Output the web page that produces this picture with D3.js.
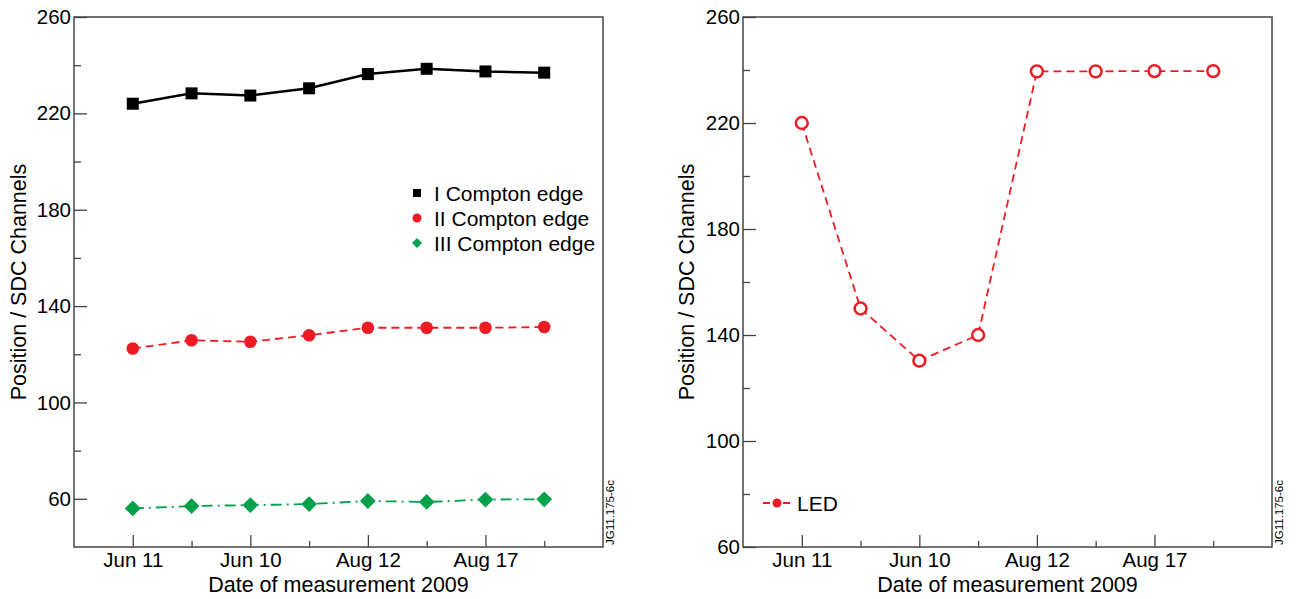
<!DOCTYPE html>
<html>
<head>
<meta charset="utf-8">
<script src="https://cdn.jsdelivr.net/npm/d3@7"></script>
<style>
body { margin: 0; background: #fff; }
text { font-family: "Liberation Sans", Arial, Helvetica, sans-serif; fill: #000; }
</style>
</head>
<body>
<svg id="chart" width="1296" height="599"></svg>
<script>
// data
const dates = ["Jun 11", "", "Jun 10", "", "Aug 12", "", "Aug 17", ""];
const comptonI = [224, 228.3, 227.4, 230.4, 236.3, 238.5, 237.4, 236.9];
const comptonII = [122.4, 125.8, 125.2, 127.9, 131, 131, 131, 131.3];
const comptonIII = [56, 57, 57.4, 57.8, 59.1, 58.7, 59.7, 59.8];
const led = [220, 150, 130.3, 140, 239.5, 239.5, 239.6, 239.6];
const yMajor = [60, 100, 140, 180, 220, 260];
const yMinor = [80, 120, 160, 200, 240];
const legendLeft = ["I Compton edge", "II Compton edge", "III Compton edge"];

const RED = "#ed1c24", GREEN = "#00a14b", AXIS = "#444";

const svg = d3.select("#chart");

function panel(cfg) {
    const x = d3.scaleLinear().domain([-1, 8]).range([cfg.x0, cfg.x1]);
    const y = d3.scaleLinear().domain(cfg.yDomain).range([cfg.y1, cfg.y0]);
    const g = svg.append("g");

    // frame
    g.append("rect")
        .attr("x", cfg.x0).attr("y", cfg.y0)
        .attr("width", cfg.x1 - cfg.x0).attr("height", cfg.y1 - cfg.y0)
        .attr("fill", "none").attr("stroke", AXIS).attr("stroke-width", 1.5);

    // y axis (ticks pointing inwards)
    g.append("g").attr("transform", `translate(${cfg.x0},0)`)
        .call(d3.axisLeft(y).tickValues(yMajor).tickSize(-13).tickPadding(3).tickFormat(d3.format("d")));
    g.append("g").attr("transform", `translate(${cfg.x0},0)`)
        .call(d3.axisLeft(y).tickValues(yMinor).tickSize(-7).tickFormat(""));

    // x axis
    const major = d3.range(0, 8, 2), minor = d3.range(1, 8, 2);
    g.append("g").attr("transform", `translate(0,${cfg.y1})`)
        .call(d3.axisBottom(x).tickValues(major).tickSize(-12).tickPadding(5).tickFormat(i => dates[i]));
    g.append("g").attr("transform", `translate(0,${cfg.y1})`)
        .call(d3.axisBottom(x).tickValues(minor).tickSize(-6).tickFormat(""));

    g.selectAll(".domain").remove();
    g.selectAll(".tick line").attr("stroke", AXIS).attr("stroke-width", 1.3);
    g.selectAll(".tick text").style("font-size", "20.5px").attr("fill", "#000");

    // titles
    g.append("text")
        .attr("transform", `translate(${cfg.titleX},${(cfg.y0 + cfg.y1) / 2}) rotate(-90)`)
        .attr("text-anchor", "middle").attr("dy", "0.36em")
        .style("font-size", "21.5px")
        .text("Position / SDC Channels");
    g.append("text")
        .attr("x", (cfg.x0 + cfg.x1) / 2).attr("y", 592)
        .attr("text-anchor", "middle")
        .style("font-size", "21.5px")
        .text("Date of measurement 2009");
    g.append("text")
        .attr("transform", `translate(${cfg.x1 + 11},${cfg.y1 - 2}) rotate(-90)`)
        .style("font-size", "11.5px")
        .text("JG11.175-6c");

    return { g, x, y };
}

function series(p, values, color, width, dash, symbol, size, rot, open) {
    const line = d3.line().x((d, i) => p.x(i)).y(d => p.y(d));
    p.g.append("path").datum(values)
        .attr("d", line).attr("fill", "none")
        .attr("stroke", color).attr("stroke-width", width)
        .attr("stroke-dasharray", dash);
    p.g.selectAll(null).data(values).join("path")
        .attr("transform", (d, i) => `translate(${p.x(i)},${p.y(d)}) rotate(${rot})`)
        .attr("d", d3.symbol(symbol, size)())
        .attr("fill", open ? "#fff" : color)
        .attr("stroke", open ? color : "none")
        .attr("stroke-width", open ? 2.5 : 0);
}

// left panel
const left = panel({ x0: 74, x1: 603, y0: 17, y1: 547, yDomain: [40, 260], titleX: 18 });
series(left, comptonIII, GREEN, 1.8, "11,5,2,5", d3.symbolSquare, 125, 45, false);
series(left, comptonII, RED, 1.8, "8,5", d3.symbolCircle, 125, 0, false);
series(left, comptonI, "#000", 2.5, null, d3.symbolSquare, 144, 0, false);

const legendSymbols = [[d3.symbolSquare, 64, 0, "#000"], [d3.symbolCircle, 64, 0, RED], [d3.symbolSquare, 50, 45, GREEN]];
const lg = left.g.append("g");
legendLeft.forEach((t, i) => {
    const cy = 193 + i * 25;
    const s = legendSymbols[i];
    lg.append("path")
        .attr("transform", `translate(417,${cy}) rotate(${s[2]})`)
        .attr("d", d3.symbol(s[0], s[1])())
        .attr("fill", s[3]);
    lg.append("text").attr("x", 434).attr("y", cy).attr("dy", "0.36em")
        .style("font-size", "21px").text(t);
});

// right panel
const right = panel({ x0: 743, x1: 1272, y0: 17, y1: 547, yDomain: [60, 260], titleX: 686 });
series(right, led, RED, 1.8, "8,5", d3.symbolCircle, 110, 0, true);

const rl = right.g.append("g");
rl.append("line").attr("x1", 763).attr("x2", 792).attr("y1", 503).attr("y2", 503)
    .attr("stroke", RED).attr("stroke-width", 1.8).attr("stroke-dasharray", "7,3");
rl.append("circle").attr("cx", 777).attr("cy", 503).attr("r", 4.5).attr("fill", RED);
rl.append("text").attr("x", 797).attr("y", 503).attr("dy", "0.36em")
    .style("font-size", "21px").text("LED");
</script>
</body>
</html>
